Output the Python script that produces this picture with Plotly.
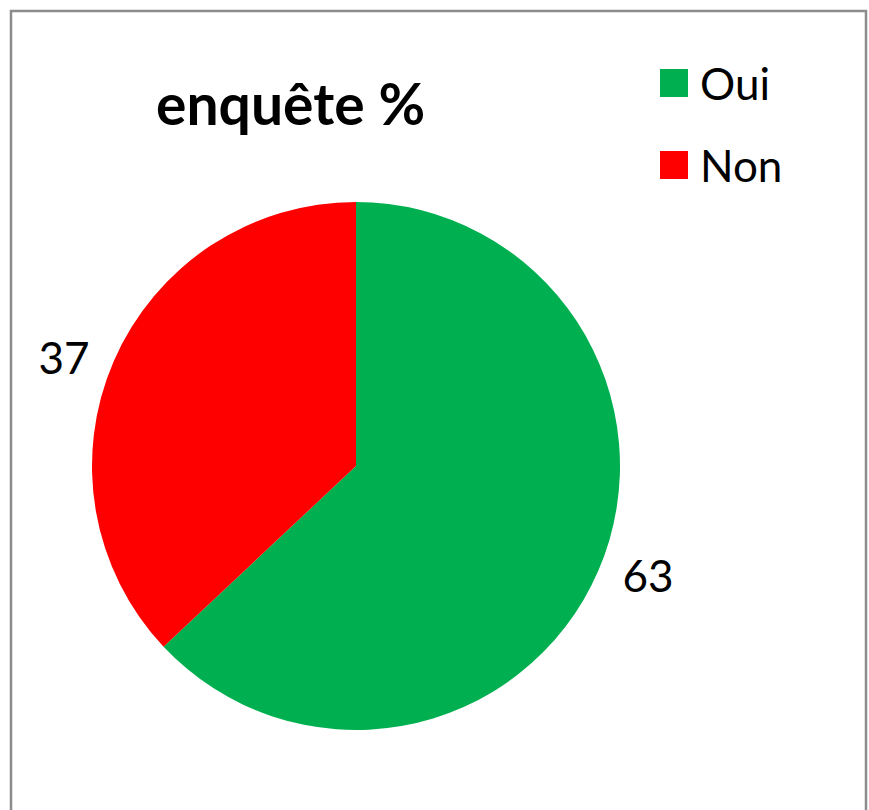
import plotly.graph_objects as pgo

labels = ["Oui", "Non"]
values = [63, 37]
colors = ["#00B050", "#FF0000"]
title_text = "enquête %"

W, H = 869, 810
FONT = "Lato, Open Sans, sans-serif"

# pie centre and radius in pixels
cx, cy, r = 356, 466, 264

fig = pgo.Figure()
fig.add_trace(pgo.Pie(
    labels=labels, values=values, sort=False, direction="clockwise", rotation=0,
    marker=dict(colors=colors, line=dict(width=0)),
    texttemplate=["\u00a0%{value}", "%{value}\u00a0"],
    textposition="outside", automargin=False,
    textfont=dict(family=FONT, size=44, color="black"),
    domain=dict(x=[(cx - r) / W, (cx + r) / W], y=[1 - (cy + r) / H, 1 - (cy - r) / H]),
    showlegend=False, hoverinfo="label+value",
))

# frame
fig.add_shape(type="rect", xref="paper", yref="paper",
              x0=11 / W, x1=866 / W, y0=-0.05, y1=1 - 11 / H,
              line=dict(color="#8c8c8c", width=2.5), layer="below")

# title
fig.add_annotation(text="<b>" + title_text + "</b>", xref="paper", yref="paper",
                   x=290 / W, y=1 - 103 / H, xanchor="center", yanchor="middle",
                   showarrow=False, font=dict(family=FONT, size=57, color="black"))

# legend drawn by hand so the swatches can be large
for i, (lab, col) in enumerate(zip(labels, colors)):
    yc = 83 + i * 82
    fig.add_shape(type="rect", xref="paper", yref="paper",
                  x0=660 / W, x1=688 / W, y0=1 - (yc - 14) / H, y1=1 - (yc + 14) / H,
                  fillcolor=col, line=dict(width=0))
    fig.add_annotation(text=lab, xref="paper", yref="paper",
                       x=698 / W, y=1 - yc / H, xanchor="left", yanchor="middle",
                       showarrow=False, font=dict(family=FONT, size=44, color="black"))

fig.update_layout(width=W, height=H,
                  margin=dict(l=0, r=0, t=0, b=0, autoexpand=False),
                  paper_bgcolor="white", plot_bgcolor="white")
fig.write_html("out.html", config={"displayModeBar": False},
               post_script="document.body.style.margin='0';")
